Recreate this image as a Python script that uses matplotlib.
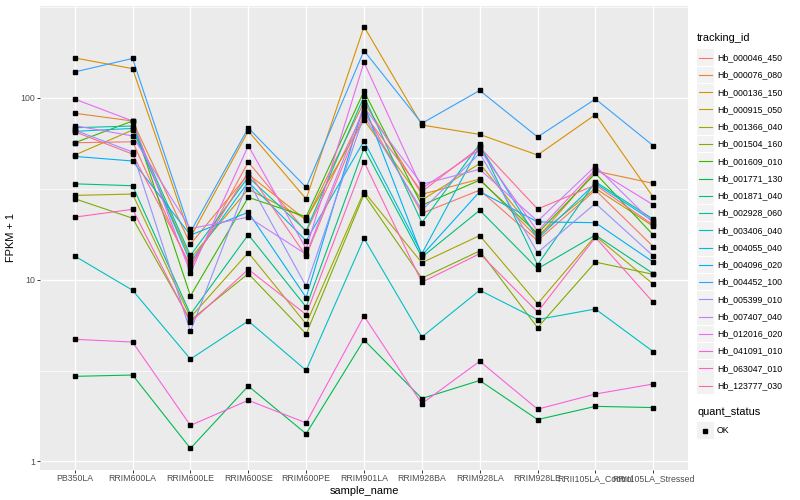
import matplotlib
matplotlib.use("Agg")
import matplotlib.pyplot as plt
from matplotlib.patches import Rectangle
from matplotlib.lines import Line2D
import numpy as np

plt.rcParams['font.family'] = ['Liberation Sans', 'DejaVu Sans']

samples = ["PB350LA", "RRIM600LA", "RRIM600LE", "RRIM600SE", "RRIM600PE", "RRIM901LA",
           "RRIM928BA", "RRIM928LA", "RRIM928LE", "RRII105LA_Control", "RRII105LA_Stressed"]

tracking_ids = ["Hb_000046_450", "Hb_000076_080", "Hb_000136_150", "Hb_000915_050",
                "Hb_001366_040", "Hb_001504_160", "Hb_001609_010", "Hb_001771_130",
                "Hb_001871_040", "Hb_002928_060", "Hb_003406_040", "Hb_004055_040",
                "Hb_004096_020", "Hb_004452_100", "Hb_005399_010", "Hb_007407_040",
                "Hb_012016_020", "Hb_041091_010", "Hb_063047_010", "Hb_123777_030"]

hb_000046_450 = [56.7, 57.4, 11.6, 44.4, 18.3, 85, 23.2, 31.1, 16.4, 31.1, 15.2]
hb_000076_080 = [82.4, 74.7, 15.7, 38, 21.3, 95, 29.5, 35.8, 17, 39.6, 33.9]
hb_000136_150 = [166, 145, 17.1, 65.8, 27.8, 247, 71, 63, 48.5, 81, 28.4]
hb_000915_050 = [48.5, 66.6, 13.1, 31.5, 21.6, 75.7, 27.4, 43.6, 17.5, 31.8, 19.7]
hb_001366_040 = [29.1, 29.6, 6.21, 14.1, 5.71, 30.5, 12.4, 17.5, 7.38, 17.4, 9.45]
hb_001504_160 = [27.9, 21.8, 5.98, 10.8, 5.03, 29.5, 10.2, 14.4, 5.45, 12.5, 10.7]
hb_001609_010 = [56.7, 74.7, 8.14, 28.4, 22.2, 109, 25.7, 35.3, 18, 38.5, 17.6]
hb_001771_130 = [2.94, 2.99, 1.18, 2.6, 1.42, 4.66, 2.22, 2.79, 1.70, 2.01, 1.98]
hb_001871_040 = [33.7, 32.9, 6.45, 17.7, 7.08, 53, 13.3, 24.1, 11.5, 17.6, 10.8]
hb_002928_060 = [68.6, 70.1, 13.6, 36.7, 18.6, 102, 20.6, 55.8, 12.1, 34.6, 21.5]
hb_003406_040 = [13.5, 8.75, 3.66, 5.93, 3.17, 16.9, 4.84, 8.75, 6.04, 6.9, 4.02]
hb_004055_040 = [65.5, 68, 12.5, 34.5, 16.4, 58, 13.9, 54.5, 16.8, 33.9, 21]
hb_004096_020 = [47.7, 45.0, 17.6, 23.5, 7.98, 92, 13.6, 30.5, 20.8, 20.6, 12.5]
hb_004452_100 = [139, 165, 18.3, 68.4, 32.2, 182, 72.5, 110, 61, 98.7, 54.6]
hb_005399_010 = [66.6, 50.4, 5.2, 35, 9.2, 80, 24.1, 49.6, 14.1, 26.3, 13.5]
hb_007407_040 = [70.4, 61.8, 19.1, 22.1, 13.8, 89, 33.5, 40.5, 21, 42.2, 20.5]
hb_012016_020 = [98.6, 74.7, 10.9, 54.6, 14.8, 157, 31.8, 52, 18.5, 40.5, 25.8]
hb_041091_010 = [4.7, 4.54, 1.58, 2.17, 1.63, 6.31, 2.08, 3.56, 1.94, 2.35, 2.67]
hb_063047_010 = [22.1, 24.4, 5.83, 11.4, 6.43, 44.6, 9.69, 13.9, 6.65, 17.1, 7.5]
hb_123777_030 = [65.2, 49.1, 12.0, 39.1, 13.5, 82, 30.5, 53.6, 24.5, 33.2, 20]

series = [hb_000046_450, hb_000076_080, hb_000136_150, hb_000915_050, hb_001366_040,
          hb_001504_160, hb_001609_010, hb_001771_130, hb_001871_040, hb_002928_060,
          hb_003406_040, hb_004055_040, hb_004096_020, hb_004452_100, hb_005399_010,
          hb_007407_040, hb_012016_020, hb_041091_010, hb_063047_010, hb_123777_030]

colors = ["#F8766D", "#EA8331", "#D89000", "#C09B00", "#A3A500", "#7CAE00", "#39B600",
          "#00BB4E", "#00BF7D", "#00C1A3", "#00BFC4", "#00BAE0", "#00B0F6", "#35A2FF",
          "#9590FF", "#C77CFF", "#E76BF3", "#FA62DB", "#FF62BC", "#FF6C91"]

W, H = 800, 500
fig = plt.figure(figsize=(W / 100, H / 100), dpi=100)
fig.patch.set_facecolor("white")

pl, pr, pt, pb = 40, 688, 5.5, 469.5
ax = fig.add_axes([pl / W, 1 - pb / H, (pr - pl) / W, (pb - pt) / H])
ax.set_facecolor("#EBEBEB")
for s in ax.spines.values():
    s.set_visible(False)

x = np.arange(len(samples))
ax.set_yscale("log")
ax.set_xlim(-0.6, len(samples) - 1 + 0.6)
allv = np.concatenate([np.array(s, float) for s in series])
lo, hi = np.log10(allv.min()), np.log10(allv.max())
pad = 0.05 * (hi - lo)
ax.set_ylim(10 ** (lo - pad), 10 ** (hi + pad))

# grid
for v in [1, 10, 100]:
    ax.axhline(v, color="white", lw=1.0, zorder=0.5)
for v in [10 ** 0.5, 10 ** 1.5, 10 ** 2.5]:
    ax.axhline(v, color="white", lw=0.5, zorder=0.5)
for xi in x:
    ax.axvline(xi, color="white", lw=1.0, zorder=0.5)

for vals, c in zip(series, colors):
    ax.plot(x, vals, color=c, lw=0.8, zorder=2, solid_capstyle="butt")
for vals in series:
    ax.plot(x, vals, ls="none", marker="s", ms=2.2, color="black", zorder=3)

ax.set_yticks([1, 10, 100])
ax.set_yticklabels(["1", "10", "100"])
ax.yaxis.set_minor_locator(matplotlib.ticker.NullLocator())
ax.set_xticks(x)
ax.set_xticklabels(samples)
ax.tick_params(axis="both", which="major", length=2.0, width=0.7, color="#333333",
               labelsize=6.3, labelcolor="#4D4D4D", pad=1.5)
ax.set_xlabel("sample_name", fontsize=7.9, labelpad=2)
ax.set_ylabel("FPKM + 1", fontsize=7.9, labelpad=3)

# legend drawn in pixel space
lg = fig.add_axes([0, 0, 1, 1])
lg.set_xlim(0, W)
lg.set_ylim(H, 0)
lg.axis("off")
lg.text(697, 38, "tracking_id", fontsize=7.9, va="center", ha="left")
y0, dy = 57.7, 17.26
for i, (tid, c) in enumerate(zip(tracking_ids, colors)):
    yc = y0 + i * dy
    lg.add_patch(Rectangle((697, yc - 8.3), 16.6, 16.6, facecolor="#F2F2F2", edgecolor="none"))
    lg.add_line(Line2D([698.5, 711.5], [yc, yc], color=c, lw=0.8))
    lg.text(717, yc, tid, fontsize=6.3, va="center", ha="left")
lg.text(697, 412, "quant_status", fontsize=7.9, va="center", ha="left")
yc = 430.5
lg.add_patch(Rectangle((697, yc - 8.3), 16.6, 16.6, facecolor="#F2F2F2", edgecolor="none"))
lg.add_line(Line2D([705.3], [yc], ls="none", marker="s", ms=2.2, color="black"))
lg.text(717, yc, "OK", fontsize=6.3, va="center", ha="left")

fig.savefig("out.png", dpi=100)
